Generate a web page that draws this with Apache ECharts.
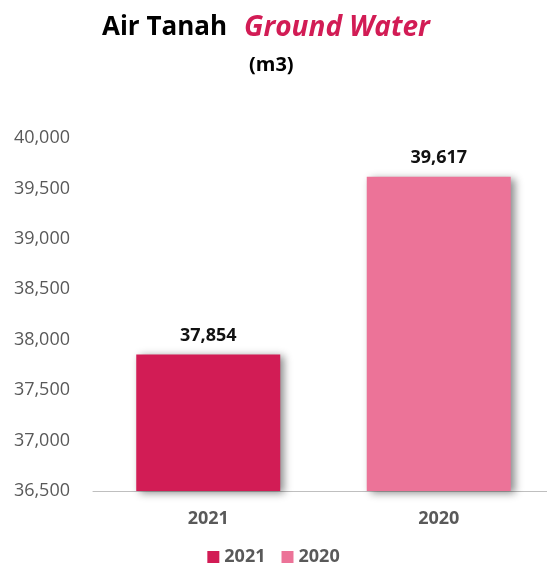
<!DOCTYPE html>
<html><head><meta charset="utf-8">
<script src="https://cdn.jsdelivr.net/npm/echarts@6/dist/echarts.min.js"></script>
<style>html,body{margin:0;padding:0;background:#fff}#c{width:547px;height:566px}</style>
</head><body><div id="c"></div>
<script>
const categories = ['2021', '2020'];
const seriesNames = ['2021', '2020'];
const values2021 = [37854, null];
const values2020 = [null, 39617];
const yTicks = [36500, 37000, 37500, 38000, 38500, 39000, 39500, 40000];
const colors = ['#d21c55', '#ec7398'];

const FONT = '"Open Sans", sans-serif';
const chart = echarts.init(document.getElementById('c'), null, {renderer: 'canvas'});
const barStyle = (c) => ({color: c, shadowColor: 'rgba(0,0,0,0.45)', shadowBlur: 8, shadowOffsetX: 4, shadowOffsetY: 2});
const lbl = {show: true, position: 'top', distance: 10, fontFamily: FONT, fontWeight: 'bold', fontSize: 18, color: '#111',
  formatter: p => p.value == null ? '' : Number(p.value).toLocaleString('en-US')};
chart.setOption({
  animation: false,
  title: [{
    text: '{a|Air Tanah}{g|}{b|Ground Water}',
    left: 97, top: 9,
    textStyle: {rich: {
      a: {fontFamily: FONT, fontWeight: 'bold', fontSize: 26, color: '#000'},
      g: {width: 17},
      b: {fontFamily: FONT, fontWeight: 'bold', fontStyle: 'italic', fontSize: 28, color: '#d21c55'}
    }}
  }, {
    text: '(m3)', left: 244, top: 50,
    textStyle: {fontFamily: FONT, fontWeight: 'bold', fontSize: 20, color: '#000'}
  }],
  legend: {
    bottom: 0, left: 'center', padding: 0, itemWidth: 12, itemHeight: 12, itemGap: 16,
    icon: 'rect',
    textStyle: {fontFamily: FONT, fontSize: 18, color: '#595959', fontWeight: 'bold'},
    data: seriesNames
  },
  grid: {left: 93, right: -7, top: 138, bottom: 75, containLabel: false, outerBoundsMode: 'none'},
  xAxis: {
    type: 'category', data: categories,
    axisLine: {lineStyle: {color: '#bfbfbf', width: 1}},
    axisTick: {show: false},
    axisLabel: {fontFamily: FONT, fontSize: 18, fontWeight: 'bold', color: '#595959', margin: 19}
  },
  yAxis: {
    type: 'value', min: yTicks[0], max: yTicks[yTicks.length - 1], interval: 500,
    axisLine: {show: false}, axisTick: {show: false}, splitLine: {show: false},
    axisLabel: {fontFamily: FONT, fontSize: 18, color: '#595959', margin: 23,
      formatter: v => Number(v).toLocaleString('en-US')}
  },
  series: [
    {name: seriesNames[0], type: 'bar', stack: 's', data: values2021, barWidth: 144, itemStyle: barStyle(colors[0]), label: lbl},
    {name: seriesNames[1], type: 'bar', stack: 's', data: values2020, barWidth: 144, itemStyle: barStyle(colors[1]), label: lbl}
  ]
});
</script></body></html>
